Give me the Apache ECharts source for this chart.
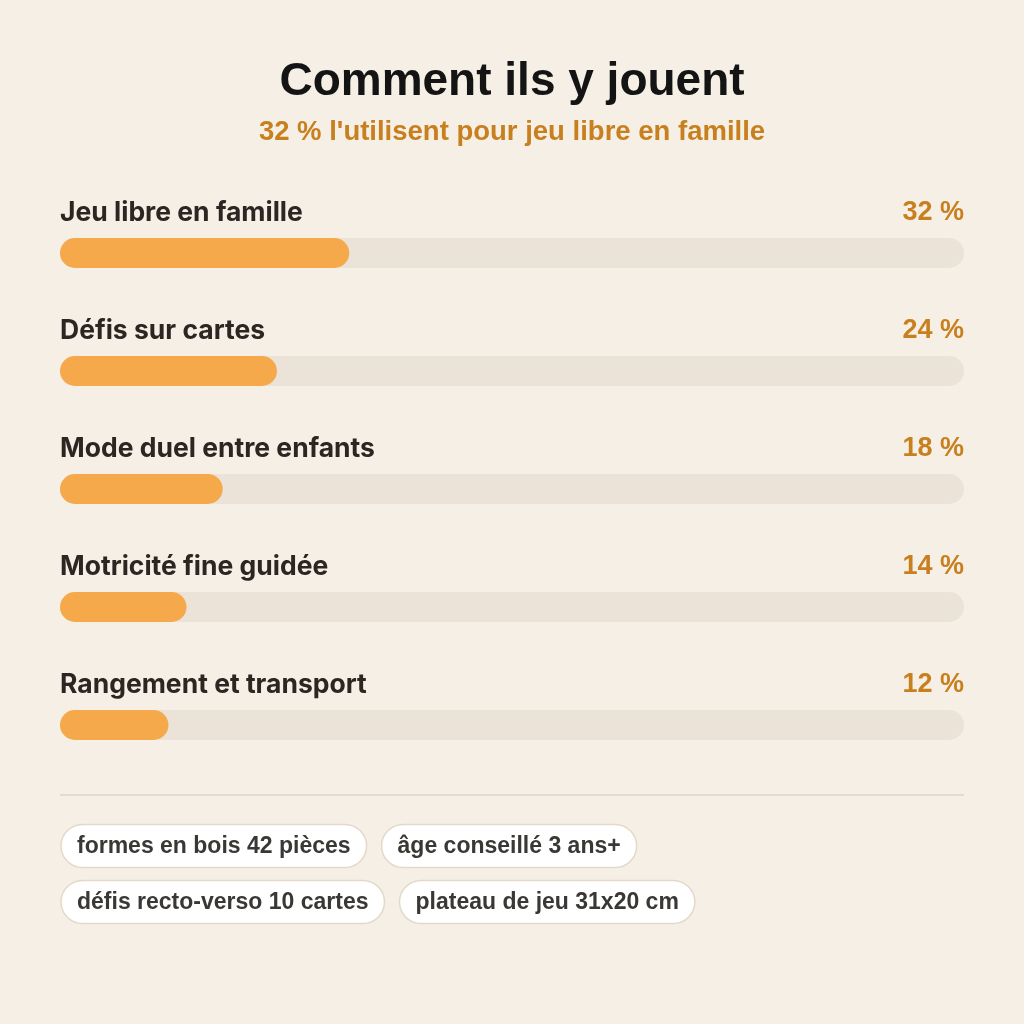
<!DOCTYPE html>
<html lang="fr">
<head>
<meta charset="utf-8">
<title>Comment ils y jouent</title>
<script src="https://cdn.jsdelivr.net/npm/echarts@6.0.0/dist/echarts.min.js"></script>
<style>
  * { margin: 0; padding: 0; }
  html, body { background: #f5efe5; }
  #chart { width: 1024px; height: 1024px; }
</style>
</head>
<body>
<div id="chart"></div>
<script>
  // data
  var categories = ['Jeu libre en famille', 'Défis sur cartes', 'Mode duel entre enfants', 'Motricité fine guidée', 'Rangement et transport'];
  var shares = [32, 24, 18, 14, 12];
  var trackValues = [100, 100, 100, 100, 100];
  var chipRows = [
    ['formes en bois 42 pièces', 'âge conseillé 3 ans+'],
    ['défis recto-verso 10 cartes', 'plateau de jeu 31x20 cm']
  ];

  var chipFont = 'bold 23px "Liberation Sans", Arial, sans-serif';
  var ctx = document.createElement('canvas').getContext('2d');
  ctx.font = chipFont;

  // chips laid out left to right, widths from the text
  var chips = [];
  chipRows.forEach(function (row, r) {
    var x = 61;
    var cy = 846 + r * 56;
    row.forEach(function (txt) {
      var w = ctx.measureText(txt).width + 32;
      chips.push({
        type: 'rect',
        shape: { x: x, y: cy - 21.5, width: w, height: 43, r: 21.5 },
        style: { fill: '#ffffff', stroke: '#e3d9c9', lineWidth: 1.5 }
      });
      chips.push({
        type: 'text',
        x: x + 16,
        y: cy + 1,
        style: {
          text: txt,
          font: chipFont,
          fill: '#3a3835',
          verticalAlign: 'middle'
        }
      });
      x += w + 15;
    });
  });

  var chart = echarts.init(document.getElementById('chart'));
  chart.setOption({
    backgroundColor: '#f5efe5',
    animation: false,
    title: {
      text: 'Comment ils y jouent',
      subtext: "32 % l'utilisent pour jeu libre en famille",
      left: 'center',
      top: 54,
      itemGap: 13,
      textStyle: { fontFamily: '"Liberation Sans", Arial', fontWeight: 'bold', fontSize: 46, color: '#141414' },
      subtextStyle: { fontFamily: '"Liberation Sans", Arial', fontWeight: 'bold', fontSize: 27.5, color: '#c8801f' }
    },
    grid: { left: 60, right: 60, top: 194, bottom: 240 },
    xAxis: { type: 'value', min: 0, max: 100, show: false },
    yAxis: { type: 'category', data: categories, inverse: true, show: false },
    series: [
      {
        type: 'bar',
        data: trackValues,
        barWidth: 30,
        barGap: '-100%',
        silent: true,
        itemStyle: { color: '#ebe3d7', borderRadius: 15 },
        label: {
          show: true,
          position: [0, -25],
          align: 'left',
          verticalAlign: 'middle',
          formatter: function (p) { return p.name; },
          fontFamily: 'Inter',
          fontWeight: 'bold',
          fontSize: 26.5,
          color: '#2b2622'
        },
        z: 1
      },
      {
        type: 'bar',
        data: shares,
        barWidth: 30,
        barGap: '-100%',
        itemStyle: { color: '#f5a94b', borderRadius: 15 },
        z: 2
      },
      {
        type: 'bar',
        data: trackValues,
        barWidth: 30,
        barGap: '-100%',
        silent: true,
        itemStyle: { color: 'transparent' },
        label: {
          show: true,
          position: ['100%', -25],
          align: 'right',
          verticalAlign: 'middle',
          formatter: function (p) { return shares[p.dataIndex] + ' %'; },
          fontFamily: '"Liberation Sans", Arial',
          fontWeight: 'bold',
          fontSize: 27,
          color: '#c8801f'
        },
        z: 3
      }
    ],
    graphic: [
      {
        type: 'line',
        shape: { x1: 60, y1: 795, x2: 964, y2: 795 },
        style: { stroke: '#e3dbcf', lineWidth: 2 }
      }
    ].concat(chips)
  });
</script>
</body>
</html>
